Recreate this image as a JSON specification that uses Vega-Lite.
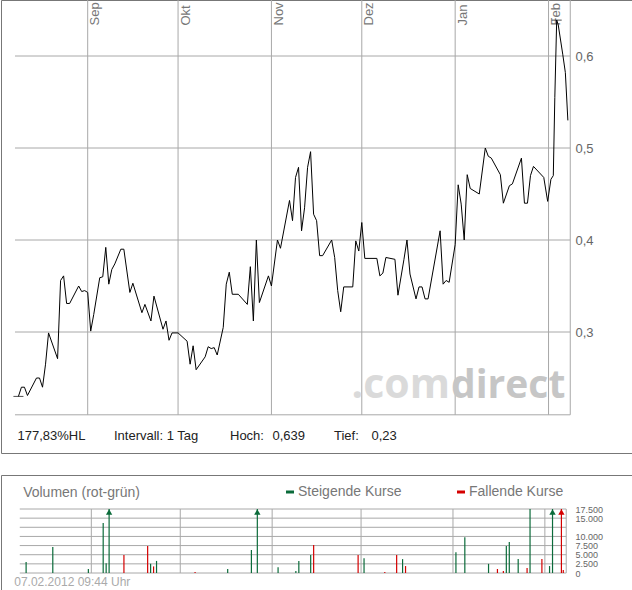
{
  "$schema": "https://vega.github.io/schema/vega-lite/v6.json",
  "padding": {"top": -1, "left": 0, "right": 0, "bottom": 0},
  "spacing": 20,
  "background": "white",
  "config": {
    "locale": {"number": {"decimal": ",", "thousands": ".", "grouping": [3], "currency": ["", " €"]}},
    "font": "Liberation Sans",
    "view": {"stroke": "#777777", "strokeWidth": 1},
    "axis": {"domain": false, "ticks": false, "tickSize": 0, "grid": false, "labelFont": "Liberation Sans", "labelOverlap": false, "labelFlush": false}
  },
  "datasets": {
    "price": [
      {"date": "2011-08-09", "price": 0.230}, {"date": "2011-08-10", "price": 0.240}, {"date": "2011-08-11", "price": 0.240},
      {"date": "2011-08-12", "price": 0.231}, {"date": "2011-08-15", "price": 0.250}, {"date": "2011-08-16", "price": 0.250},
      {"date": "2011-08-17", "price": 0.240}, {"date": "2011-08-18", "price": 0.265}, {"date": "2011-08-19", "price": 0.299},
      {"date": "2011-08-22", "price": 0.271}, {"date": "2011-08-23", "price": 0.356}, {"date": "2011-08-24", "price": 0.361},
      {"date": "2011-08-25", "price": 0.331}, {"date": "2011-08-26", "price": 0.331}, {"date": "2011-08-29", "price": 0.350},
      {"date": "2011-08-30", "price": 0.344}, {"date": "2011-08-31", "price": 0.345}, {"date": "2011-09-01", "price": 0.343},
      {"date": "2011-09-02", "price": 0.301}, {"date": "2011-09-03", "price": 0.319}, {"date": "2011-09-05", "price": 0.359},
      {"date": "2011-09-06", "price": 0.360}, {"date": "2011-09-07", "price": 0.392}, {"date": "2011-09-08", "price": 0.352},
      {"date": "2011-09-09", "price": 0.368}, {"date": "2011-09-10", "price": 0.374}, {"date": "2011-09-12", "price": 0.390},
      {"date": "2011-09-13", "price": 0.390}, {"date": "2011-09-15", "price": 0.343}, {"date": "2011-09-16", "price": 0.353},
      {"date": "2011-09-19", "price": 0.321}, {"date": "2011-09-20", "price": 0.330}, {"date": "2011-09-22", "price": 0.312},
      {"date": "2011-09-23", "price": 0.339}, {"date": "2011-09-26", "price": 0.303}, {"date": "2011-09-27", "price": 0.312},
      {"date": "2011-09-28", "price": 0.291}, {"date": "2011-09-29", "price": 0.299}, {"date": "2011-10-01", "price": 0.299},
      {"date": "2011-10-04", "price": 0.290}, {"date": "2011-10-05", "price": 0.265}, {"date": "2011-10-06", "price": 0.285},
      {"date": "2011-10-07", "price": 0.259}, {"date": "2011-10-10", "price": 0.273}, {"date": "2011-10-11", "price": 0.284},
      {"date": "2011-10-12", "price": 0.282}, {"date": "2011-10-13", "price": 0.283}, {"date": "2011-10-14", "price": 0.275},
      {"date": "2011-10-16", "price": 0.305}, {"date": "2011-10-17", "price": 0.352}, {"date": "2011-10-18", "price": 0.365},
      {"date": "2011-10-19", "price": 0.341}, {"date": "2011-10-21", "price": 0.341}, {"date": "2011-10-24", "price": 0.330},
      {"date": "2011-10-25", "price": 0.371}, {"date": "2011-10-26", "price": 0.312}, {"date": "2011-10-27", "price": 0.400},
      {"date": "2011-10-28", "price": 0.332}, {"date": "2011-10-31", "price": 0.361}, {"date": "2011-11-01", "price": 0.350},
      {"date": "2011-11-03", "price": 0.400}, {"date": "2011-11-04", "price": 0.391}, {"date": "2011-11-07", "price": 0.443},
      {"date": "2011-11-08", "price": 0.421}, {"date": "2011-11-09", "price": 0.468}, {"date": "2011-11-10", "price": 0.479},
      {"date": "2011-11-11", "price": 0.410}, {"date": "2011-11-12", "price": 0.435}, {"date": "2011-11-13", "price": 0.479},
      {"date": "2011-11-14", "price": 0.496}, {"date": "2011-11-15", "price": 0.428}, {"date": "2011-11-16", "price": 0.421},
      {"date": "2011-11-17", "price": 0.383}, {"date": "2011-11-18", "price": 0.383}, {"date": "2011-11-21", "price": 0.400},
      {"date": "2011-11-22", "price": 0.381}, {"date": "2011-11-23", "price": 0.345}, {"date": "2011-11-24", "price": 0.322},
      {"date": "2011-11-25", "price": 0.349}, {"date": "2011-11-28", "price": 0.349}, {"date": "2011-11-29", "price": 0.399},
      {"date": "2011-11-30", "price": 0.388}, {"date": "2011-12-01", "price": 0.419}, {"date": "2011-12-02", "price": 0.380},
      {"date": "2011-12-06", "price": 0.380}, {"date": "2011-12-07", "price": 0.361}, {"date": "2011-12-08", "price": 0.364},
      {"date": "2011-12-09", "price": 0.381}, {"date": "2011-12-12", "price": 0.379}, {"date": "2011-12-13", "price": 0.340},
      {"date": "2011-12-15", "price": 0.379}, {"date": "2011-12-16", "price": 0.400}, {"date": "2011-12-17", "price": 0.363},
      {"date": "2011-12-19", "price": 0.336}, {"date": "2011-12-20", "price": 0.349}, {"date": "2011-12-21", "price": 0.349},
      {"date": "2011-12-22", "price": 0.336}, {"date": "2011-12-23", "price": 0.336}, {"date": "2011-12-27", "price": 0.410},
      {"date": "2011-12-28", "price": 0.352}, {"date": "2011-12-29", "price": 0.356}, {"date": "2011-12-30", "price": 0.354},
      {"date": "2012-01-01", "price": 0.395}, {"date": "2012-01-02", "price": 0.460}, {"date": "2012-01-03", "price": 0.439},
      {"date": "2012-01-04", "price": 0.400}, {"date": "2012-01-05", "price": 0.471}, {"date": "2012-01-06", "price": 0.456},
      {"date": "2012-01-09", "price": 0.450}, {"date": "2012-01-11", "price": 0.500}, {"date": "2012-01-12", "price": 0.491},
      {"date": "2012-01-13", "price": 0.489}, {"date": "2012-01-16", "price": 0.471}, {"date": "2012-01-17", "price": 0.440},
      {"date": "2012-01-19", "price": 0.459}, {"date": "2012-01-20", "price": 0.461}, {"date": "2012-01-23", "price": 0.489},
      {"date": "2012-01-24", "price": 0.440}, {"date": "2012-01-25", "price": 0.440}, {"date": "2012-01-26", "price": 0.470},
      {"date": "2012-01-27", "price": 0.480}, {"date": "2012-01-30T10:00:00Z", "price": 0.468},
      {"date": "2012-01-31T17:00:00Z", "price": 0.442}, {"date": "2012-02-01T19:00:00Z", "price": 0.466},
      {"date": "2012-02-02T14:00:00Z", "price": 0.470}, {"date": "2012-02-03T02:00:00Z", "price": 0.555},
      {"date": "2012-02-03T17:00:00Z", "price": 0.639}, {"date": "2012-02-04T05:00:00Z", "price": 0.634},
      {"date": "2012-02-05T17:00:00Z", "price": 0.602}, {"date": "2012-02-06T14:00:00Z", "price": 0.582},
      {"date": "2012-02-07T10:00:00Z", "price": 0.530}
    ],
    "volume": [
      {"date": "2011-08-10", "volume": 3000, "trend": "Steigende Kurse"},
      {"date": "2011-08-19", "volume": 7100, "trend": "Steigende Kurse"},
      {"date": "2011-08-31", "volume": 1100, "trend": "Steigende Kurse"},
      {"date": "2011-09-05", "volume": 13700, "trend": "Steigende Kurse"},
      {"date": "2011-09-06", "volume": 2700, "trend": "Steigende Kurse"},
      {"date": "2011-09-07", "volume": 30000, "trend": "Steigende Kurse"},
      {"date": "2011-09-12", "volume": 4900, "trend": "Fallende Kurse"},
      {"date": "2011-09-20", "volume": 7400, "trend": "Fallende Kurse"},
      {"date": "2011-09-21", "volume": 2500, "trend": "Steigende Kurse"},
      {"date": "2011-09-22", "volume": 1800, "trend": "Fallende Kurse"},
      {"date": "2011-09-23", "volume": 3300, "trend": "Steigende Kurse"},
      {"date": "2011-10-06", "volume": 300, "trend": "Fallende Kurse"},
      {"date": "2011-10-17", "volume": 1100, "trend": "Steigende Kurse"},
      {"date": "2011-10-25", "volume": 6300, "trend": "Steigende Kurse"},
      {"date": "2011-10-27", "volume": 30000, "trend": "Steigende Kurse"},
      {"date": "2011-11-03", "volume": 1600, "trend": "Steigende Kurse"},
      {"date": "2011-11-09", "volume": 550, "trend": "Steigende Kurse"},
      {"date": "2011-11-10", "volume": 3300, "trend": "Steigende Kurse"},
      {"date": "2011-11-14", "volume": 4900, "trend": "Steigende Kurse"},
      {"date": "2011-11-15", "volume": 7650, "trend": "Fallende Kurse"},
      {"date": "2011-11-30", "volume": 4900, "trend": "Fallende Kurse"},
      {"date": "2011-12-02", "volume": 4000, "trend": "Steigende Kurse"},
      {"date": "2011-12-09", "volume": 300, "trend": "Fallende Kurse"},
      {"date": "2011-12-13", "volume": 4900, "trend": "Fallende Kurse"},
      {"date": "2011-12-15", "volume": 3800, "trend": "Steigende Kurse"},
      {"date": "2011-12-16", "volume": 1900, "trend": "Fallende Kurse"},
      {"date": "2012-01-02", "volume": 5700, "trend": "Steigende Kurse"},
      {"date": "2012-01-05", "volume": 9800, "trend": "Steigende Kurse"},
      {"date": "2012-01-13", "volume": 2500, "trend": "Steigende Kurse"},
      {"date": "2012-01-16", "volume": 1100, "trend": "Fallende Kurse"},
      {"date": "2012-01-18", "volume": 550, "trend": "Fallende Kurse"},
      {"date": "2012-01-19", "volume": 7400, "trend": "Steigende Kurse"},
      {"date": "2012-01-20", "volume": 8500, "trend": "Steigende Kurse"},
      {"date": "2012-01-23", "volume": 3800, "trend": "Steigende Kurse"},
      {"date": "2012-01-26", "volume": 1400, "trend": "Fallende Kurse"},
      {"date": "2012-01-27", "volume": 17500, "trend": "Steigende Kurse"},
      {"date": "2012-01-31", "volume": 3800, "trend": "Fallende Kurse"},
      {"date": "2012-02-02T14:00:00Z", "volume": 1900, "trend": "Steigende Kurse"},
      {"date": "2012-02-03T14:00:00Z", "volume": 40000, "trend": "Steigende Kurse"},
      {"date": "2012-02-06T14:00:00Z", "volume": 35000, "trend": "Fallende Kurse"},
      {"date": "2012-02-07T05:00:00Z", "volume": 800, "trend": "Fallende Kurse"}
    ],
    "months": [
      {"month": "2011-09-01"}, {"month": "2011-10-01"}, {"month": "2011-11-01"},
      {"month": "2011-12-01"}, {"month": "2012-01-01"}, {"month": "2012-02-01"}
    ],
    "priceLevels": [{"level": 0.21}, {"level": 0.3}, {"level": 0.4}, {"level": 0.5}, {"level": 0.6}],
    "volumeLevels": [
      {"level": 0}, {"level": 2500}, {"level": 5000}, {"level": 7500},
      {"level": 10000}, {"level": 12500}, {"level": 15000}, {"level": 17500}
    ],
    "one": [{}]
  },
  "vconcat": [
    {
      "width": 631,
      "height": 453,
      "layer": [
        {
          "data": {"name": "priceLevels"},
          "mark": {"type": "rule", "color": "#a8a8a8", "strokeWidth": 1},
          "encoding": {
            "y": {"field": "level", "type": "quantitative", "scale": {"domain": [0.16848, 0.66087], "nice": false, "zero": false}},
            "x": {"datum": {"year": 2011, "month": 8, "date": 7, "hours": 20, "minutes": 40, "utc": true}, "type": "temporal", "scale": {"type": "utc", "domain": [{"year": 2011, "month": 8, "date": 3, "hours": 5, "minutes": 10, "utc": true}, {"year": 2012, "month": 2, "date": 28, "hours": 17, "utc": true}]}},
            "x2": {"datum": {"year": 2012, "month": 2, "date": 8, "hours": 5, "utc": true}}
          }
        },
        {
          "data": {"name": "months"},
          "mark": {"type": "rule", "color": "#a8a8a8", "strokeWidth": 1},
          "encoding": {
            "x": {"field": "month", "type": "temporal", "scale": {"type": "utc", "domain": [{"year": 2011, "month": 8, "date": 3, "hours": 5, "minutes": 10, "utc": true}, {"year": 2012, "month": 2, "date": 28, "hours": 17, "utc": true}]}},
            "y": {"datum": 0.21, "type": "quantitative", "scale": {"domain": [0.16848, 0.66087], "nice": false, "zero": false}},
            "y2": {"datum": 0.66087}
          }
        },
        {
          "data": {"name": "one"},
          "mark": {"type": "rule", "color": "#a8a8a8", "strokeWidth": 1},
          "encoding": {
            "x": {"datum": {"year": 2012, "month": 2, "date": 8, "hours": 5, "utc": true}, "type": "temporal", "scale": {"type": "utc", "domain": [{"year": 2011, "month": 8, "date": 3, "hours": 5, "minutes": 10, "utc": true}, {"year": 2012, "month": 2, "date": 28, "hours": 17, "utc": true}]}},
            "y": {"datum": 0.21, "type": "quantitative", "scale": {"domain": [0.16848, 0.66087], "nice": false, "zero": false}},
            "y2": {"datum": 0.66087}
          }
        },
        {
          "data": {"name": "one"},
          "mark": {"type": "text", "text": ".com", "align": "right", "baseline": "alphabetic", "font": "Open Sans", "fontSize": 41, "fontWeight": "bold", "color": "#dadada"},
          "encoding": {
            "x": {"datum": {"year": 2011, "month": 12, "date": 30, "hours": 6, "utc": true}, "type": "temporal", "scale": {"type": "utc", "domain": [{"year": 2011, "month": 8, "date": 3, "hours": 5, "minutes": 10, "utc": true}, {"year": 2012, "month": 2, "date": 28, "hours": 17, "utc": true}]}},
            "y": {"datum": 0.2283, "type": "quantitative", "scale": {"domain": [0.16848, 0.66087], "nice": false, "zero": false}}
          }
        },
        {
          "data": {"name": "one"},
          "mark": {"type": "text", "text": "direct", "align": "left", "baseline": "alphabetic", "font": "Open Sans", "fontSize": 39, "fontWeight": "bold", "color": "#c6c6c6"},
          "encoding": {
            "x": {"datum": {"year": 2011, "month": 12, "date": 30, "hours": 15, "utc": true}, "type": "temporal", "scale": {"type": "utc", "domain": [{"year": 2011, "month": 8, "date": 3, "hours": 5, "minutes": 10, "utc": true}, {"year": 2012, "month": 2, "date": 28, "hours": 17, "utc": true}]}},
            "y": {"datum": 0.2283, "type": "quantitative", "scale": {"domain": [0.16848, 0.66087], "nice": false, "zero": false}}
          }
        },
        {
          "data": {"name": "one"},
          "mark": {"type": "text", "text": "177,83%HL", "align": "left", "baseline": "alphabetic", "fontSize": 13, "color": "#222222"},
          "encoding": {
            "x": {"datum": {"year": 2011, "month": 8, "date": 8, "hours": 16, "minutes": 30, "utc": true}, "type": "temporal", "scale": {"type": "utc", "domain": [{"year": 2011, "month": 8, "date": 3, "hours": 5, "minutes": 10, "utc": true}, {"year": 2012, "month": 2, "date": 28, "hours": 17, "utc": true}]}},
            "y": {"datum": 0.1826, "type": "quantitative", "scale": {"domain": [0.16848, 0.66087], "nice": false, "zero": false}}
          }
        },
        {
          "data": {"name": "one"},
          "mark": {"type": "text", "text": "Intervall: 1 Tag", "align": "left", "baseline": "alphabetic", "fontSize": 13, "color": "#222222"},
          "encoding": {
            "x": {"datum": {"year": 2011, "month": 9, "date": 9, "hours": 17, "minutes": 30, "utc": true}, "type": "temporal", "scale": {"type": "utc", "domain": [{"year": 2011, "month": 8, "date": 3, "hours": 5, "minutes": 10, "utc": true}, {"year": 2012, "month": 2, "date": 28, "hours": 17, "utc": true}]}},
            "y": {"datum": 0.1826, "type": "quantitative", "scale": {"domain": [0.16848, 0.66087], "nice": false, "zero": false}}
          }
        },
        {
          "data": {"name": "one"},
          "mark": {"type": "text", "text": "Hoch:", "align": "left", "baseline": "alphabetic", "fontSize": 13, "color": "#222222"},
          "encoding": {
            "x": {"datum": {"year": 2011, "month": 10, "date": 18, "hours": 5, "minutes": 45, "utc": true}, "type": "temporal", "scale": {"type": "utc", "domain": [{"year": 2011, "month": 8, "date": 3, "hours": 5, "minutes": 10, "utc": true}, {"year": 2012, "month": 2, "date": 28, "hours": 17, "utc": true}]}},
            "y": {"datum": 0.1826, "type": "quantitative", "scale": {"domain": [0.16848, 0.66087], "nice": false, "zero": false}}
          }
        },
        {
          "data": {"name": "one"},
          "mark": {"type": "text", "text": "0,639", "align": "left", "baseline": "alphabetic", "fontSize": 13, "color": "#222222"},
          "encoding": {
            "x": {"datum": {"year": 2011, "month": 11, "date": 1, "hours": 8, "minutes": 25, "utc": true}, "type": "temporal", "scale": {"type": "utc", "domain": [{"year": 2011, "month": 8, "date": 3, "hours": 5, "minutes": 10, "utc": true}, {"year": 2012, "month": 2, "date": 28, "hours": 17, "utc": true}]}},
            "y": {"datum": 0.1826, "type": "quantitative", "scale": {"domain": [0.16848, 0.66087], "nice": false, "zero": false}}
          }
        },
        {
          "data": {"name": "one"},
          "mark": {"type": "text", "text": "Tief:", "align": "left", "baseline": "alphabetic", "fontSize": 13, "color": "#222222"},
          "encoding": {
            "x": {"datum": {"year": 2011, "month": 11, "date": 21, "hours": 18, "minutes": 30, "utc": true}, "type": "temporal", "scale": {"type": "utc", "domain": [{"year": 2011, "month": 8, "date": 3, "hours": 5, "minutes": 10, "utc": true}, {"year": 2012, "month": 2, "date": 28, "hours": 17, "utc": true}]}},
            "y": {"datum": 0.1826, "type": "quantitative", "scale": {"domain": [0.16848, 0.66087], "nice": false, "zero": false}}
          }
        },
        {
          "data": {"name": "one"},
          "mark": {"type": "text", "text": "0,23", "align": "left", "baseline": "alphabetic", "fontSize": 13, "color": "#222222"},
          "encoding": {
            "x": {"datum": {"year": 2011, "month": 12, "date": 4, "hours": 5, "minutes": 15, "utc": true}, "type": "temporal", "scale": {"type": "utc", "domain": [{"year": 2011, "month": 8, "date": 3, "hours": 5, "minutes": 10, "utc": true}, {"year": 2012, "month": 2, "date": 28, "hours": 17, "utc": true}]}},
            "y": {"datum": 0.1826, "type": "quantitative", "scale": {"domain": [0.16848, 0.66087], "nice": false, "zero": false}}
          }
        },
        {
          "data": {"name": "price"},
          "mark": {"type": "line", "color": "#000000", "strokeWidth": 1},
          "encoding": {
            "x": {
              "field": "date", "type": "temporal",
              "scale": {"type": "utc", "domain": [{"year": 2011, "month": 8, "date": 3, "hours": 5, "minutes": 10, "utc": true}, {"year": 2012, "month": 2, "date": 28, "hours": 17, "utc": true}]},
              "axis": {
                "orient": "top", "title": null,
                "values": [
                  {"year": 2011, "month": 9, "date": 1, "utc": true}, {"year": 2011, "month": 10, "date": 1, "utc": true},
                  {"year": 2011, "month": 11, "date": 1, "utc": true}, {"year": 2011, "month": 12, "date": 1, "utc": true},
                  {"year": 2012, "month": 1, "date": 1, "utc": true}, {"year": 2012, "month": 2, "date": 1, "utc": true}
                ],
                "labelExpr": "['Jan','Feb','Mrz','Apr','Mai','Jun','Jul','Aug','Sep','Okt','Nov','Dez'][utcmonth(datum.value)]",
                "labelAngle": 270, "labelAlign": "left", "labelBaseline": "top", "labelOverlap": false,
                "labelPadding": -25, "labelOffset": 1, "labelFontSize": 13, "labelColor": "#777777"
              }
            },
            "y": {
              "field": "price", "type": "quantitative",
              "scale": {"domain": [0.16848, 0.66087], "nice": false, "zero": false},
              "axis": {"orient": "right", "title": null, "offset": -62, "values": [0.3, 0.4, 0.5, 0.6], "format": ".1f", "labelOverlap": false, "labelPadding": 5, "labelFontSize": 13, "labelColor": "#666666"}
            }
          }
        },
        {
          "data": {"name": "price"},
          "transform": [{"filter": "datum.price <= 0.23 || datum.price >= 0.639"}],
          "mark": {"type": "tick", "orient": "horizontal", "color": "#000000", "size": 10, "thickness": 1},
          "encoding": {
            "x": {"field": "date", "type": "temporal", "scale": {"type": "utc", "domain": [{"year": 2011, "month": 8, "date": 3, "hours": 5, "minutes": 10, "utc": true}, {"year": 2012, "month": 2, "date": 28, "hours": 17, "utc": true}]}},
            "y": {"field": "price", "type": "quantitative", "scale": {"domain": [0.16848, 0.66087], "nice": false, "zero": false}}
          }
        }
      ]
    },
    {
      "width": 631,
      "height": 115,
      "resolve": {"axis": {"x": "independent", "y": "independent"}},
      "layer": [
        {
          "data": {"name": "volumeLevels"},
          "mark": {"type": "rule", "color": "#a8a8a8", "strokeWidth": 1},
          "encoding": {
            "y": {"field": "level", "type": "quantitative", "scale": {"domain": [-4648, 26797], "nice": false, "zero": false}, "axis": null},
            "x": {"datum": {"year": 2011, "month": 8, "date": 7, "hours": 20, "minutes": 40, "utc": true}, "type": "temporal", "scale": {"type": "utc", "domain": [{"year": 2011, "month": 8, "date": 3, "hours": 5, "minutes": 10, "utc": true}, {"year": 2012, "month": 2, "date": 28, "hours": 17, "utc": true}]}, "axis": null},
            "x2": {"datum": {"year": 2012, "month": 2, "date": 8, "hours": 5, "utc": true}}
          }
        },
        {
          "data": {"name": "months"},
          "mark": {"type": "rule", "color": "#a8a8a8", "strokeWidth": 1},
          "encoding": {
            "x": {"field": "month", "type": "temporal", "scale": {"type": "utc", "domain": [{"year": 2011, "month": 8, "date": 3, "hours": 5, "minutes": 10, "utc": true}, {"year": 2012, "month": 2, "date": 28, "hours": 17, "utc": true}]}, "axis": null},
            "y": {"datum": 0, "type": "quantitative", "scale": {"domain": [-4648, 26797], "nice": false, "zero": false}, "axis": null},
            "y2": {"datum": 17500}
          }
        },
        {
          "data": {"name": "one"},
          "mark": {"type": "rule", "color": "#a8a8a8", "strokeWidth": 1},
          "encoding": {
            "x": {"datum": {"year": 2012, "month": 2, "date": 8, "hours": 5, "utc": true}, "type": "temporal", "scale": {"type": "utc", "domain": [{"year": 2011, "month": 8, "date": 3, "hours": 5, "minutes": 10, "utc": true}, {"year": 2012, "month": 2, "date": 28, "hours": 17, "utc": true}]}, "axis": null},
            "y": {"datum": 0, "type": "quantitative", "scale": {"domain": [-4648, 26797], "nice": false, "zero": false}, "axis": null},
            "y2": {"datum": 17500}
          }
        },
        {
          "data": {"name": "one"},
          "mark": {"type": "text", "text": "Volumen (rot-grün)", "align": "left", "baseline": "alphabetic", "fontSize": 14, "color": "#777777"},
          "encoding": {
            "x": {"datum": {"year": 2011, "month": 8, "date": 9, "hours": 0, "utc": true}, "type": "temporal", "scale": {"type": "utc", "domain": [{"year": 2011, "month": 8, "date": 3, "hours": 5, "minutes": 10, "utc": true}, {"year": 2012, "month": 2, "date": 28, "hours": 17, "utc": true}]}, "axis": null},
            "y": {"datum": 20800, "type": "quantitative", "scale": {"domain": [-4648, 26797], "nice": false, "zero": false}, "axis": null}
          }
        },
        {
          "data": {"name": "one"},
          "mark": {"type": "text", "text": "07.02.2012 09:44 Uhr", "align": "left", "baseline": "alphabetic", "fontSize": 12, "color": "#aaaaaa"},
          "encoding": {
            "x": {"datum": {"year": 2011, "month": 8, "date": 6, "hours": 0, "utc": true}, "type": "temporal", "scale": {"type": "utc", "domain": [{"year": 2011, "month": 8, "date": 3, "hours": 5, "minutes": 10, "utc": true}, {"year": 2012, "month": 2, "date": 28, "hours": 17, "utc": true}]}, "axis": null},
            "y": {"datum": -3555, "type": "quantitative", "scale": {"domain": [-4648, 26797], "nice": false, "zero": false}, "axis": null}
          }
        },
        {
          "data": {"name": "volume"},
          "transform": [{"filter": "datum.volume <= 17500"}],
          "mark": {"type": "bar", "width": 1.2},
          "encoding": {
            "x": {"field": "date", "type": "temporal", "scale": {"type": "utc", "domain": [{"year": 2011, "month": 8, "date": 3, "hours": 5, "minutes": 10, "utc": true}, {"year": 2012, "month": 2, "date": 28, "hours": 17, "utc": true}]}, "axis": null},
            "y": {
              "field": "volume", "type": "quantitative",
              "scale": {"domain": [-4648, 26797], "nice": false, "zero": false},
              "axis": {"orient": "right", "title": null, "offset": -62, "values": [0, 2500, 5000, 7500, 10000, 15000, 17500], "format": ",d", "labelOverlap": false, "labelSeparation": -10, "labelPadding": 5, "labelFontSize": 9, "labelColor": "#666666"}
            },
            "y2": {"datum": 0},
            "color": {
              "field": "trend", "type": "nominal",
              "scale": {"domain": ["Steigende Kurse", "Fallende Kurse"], "range": ["#0b6b3a", "#d40000"]},
              "legend": {
                "orient": "none", "legendX": 282, "legendY": 485, "direction": "horizontal", "title": null,
                "symbolType": "M-1,-0.375H1V0.375H-1Z", "symbolSize": 64, "symbolStrokeWidth": 0,
                "labelFontSize": 14, "labelColor": "#777777", "labelFont": "Liberation Sans",
                "labelOffset": 1, "columnPadding": 52, "padding": 0
              }
            }
          }
        },
        {
          "data": {"name": "volume"},
          "transform": [{"filter": "datum.volume > 17500"}],
          "mark": {"type": "bar", "width": 1.2},
          "encoding": {
            "x": {"field": "date", "type": "temporal", "scale": {"type": "utc", "domain": [{"year": 2011, "month": 8, "date": 3, "hours": 5, "minutes": 10, "utc": true}, {"year": 2012, "month": 2, "date": 28, "hours": 17, "utc": true}]}, "axis": null},
            "y": {"datum": 17500, "type": "quantitative", "scale": {"domain": [-4648, 26797], "nice": false, "zero": false}, "axis": null},
            "y2": {"datum": 0},
            "color": {"field": "trend", "type": "nominal", "scale": {"domain": ["Steigende Kurse", "Fallende Kurse"], "range": ["#0b6b3a", "#d40000"]}}
          }
        },
        {
          "data": {"name": "volume"},
          "transform": [{"filter": "datum.volume > 17500"}],
          "mark": {"type": "point", "shape": "triangle-up", "filled": true, "size": 40, "opacity": 1, "yOffset": 3},
          "encoding": {
            "x": {"field": "date", "type": "temporal", "scale": {"type": "utc", "domain": [{"year": 2011, "month": 8, "date": 3, "hours": 5, "minutes": 10, "utc": true}, {"year": 2012, "month": 2, "date": 28, "hours": 17, "utc": true}]}, "axis": null},
            "y": {"datum": 17500, "type": "quantitative", "scale": {"domain": [-4648, 26797], "nice": false, "zero": false}, "axis": null},
            "color": {"field": "trend", "type": "nominal", "scale": {"domain": ["Steigende Kurse", "Fallende Kurse"], "range": ["#0b6b3a", "#d40000"]}}
          }
        }
      ]
    }
  ]
}
